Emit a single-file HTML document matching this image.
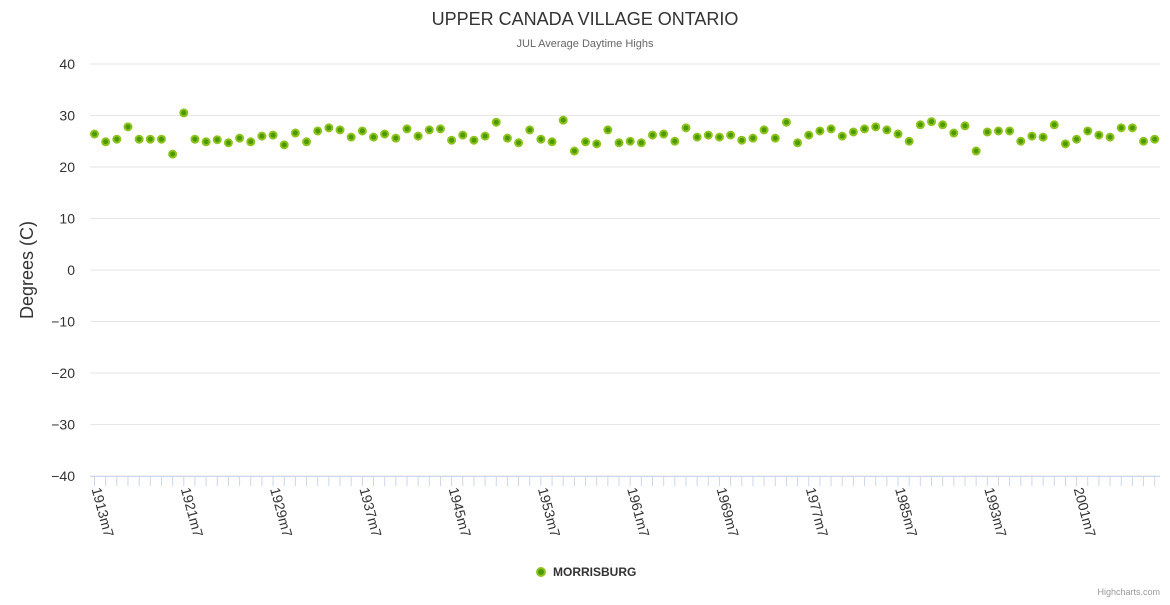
<!DOCTYPE html>
<html><head><meta charset="utf-8"><style>
body{margin:0;background:#fff;font-family:"Liberation Sans",sans-serif}
</style></head><body>
<svg id="chart" width="1170" height="600" xmlns="http://www.w3.org/2000/svg" font-family="Liberation Sans, sans-serif">
<text x="585" y="25" text-anchor="middle" font-size="18" fill="#333">UPPER CANADA VILLAGE ONTARIO</text>
<text x="585" y="47" text-anchor="middle" font-size="11" fill="#666">JUL Average Daytime Highs</text>
<text transform="translate(33,270) rotate(-90)" text-anchor="middle" font-size="18" fill="#333">Degrees (C)</text>
<g id="grid"></g><g id="xaxis"></g><g id="pts"></g>
<g>
<circle cx="541" cy="572" r="4" fill="#4a9a00" stroke="#8fc31f" stroke-width="2"/>
<text x="553" y="576" font-size="12" font-weight="bold" fill="#333">MORRISBURG</text></g>
<text x="1160" y="595" text-anchor="end" font-size="9" fill="#999">Highcharts.com</text>
</svg>
<script>
const startYear = 1913;
const values = [26.4,24.9,25.4,27.8,25.4,25.4,25.4,22.5,30.5,25.4,24.9,25.3,24.7,25.6,24.9,26.0,26.2,24.3,26.6,24.9,27.0,27.6,27.2,25.8,27.0,25.8,26.4,25.6,27.4,26.0,27.2,27.4,25.2,26.2,25.2,26.0,28.7,25.6,24.7,27.2,25.4,24.9,29.1,23.1,24.9,24.5,27.2,24.7,25.0,24.7,26.2,26.4,25.0,27.6,25.8,26.2,25.8,26.2,25.2,25.6,27.2,25.6,28.7,24.7,26.2,27.0,27.4,26.0,26.8,27.4,27.8,27.2,26.4,25.0,28.2,28.8,28.2,26.6,28.0,23.1,26.8,27.0,27.0,25.0,26.0,25.8,28.2,24.5,25.4,27.0,26.2,25.8,27.6,27.6,25.0,25.4];
const yTicks = [40,30,20,10,0,-10,-20,-30,-40];
const NS="http://www.w3.org/2000/svg";
const L=90,R=1160,x0=94.5,step=11.16;
const X=i=>x0+i*step;
const Y=v=>64+(40-v)*412/80;
function mk(t,a,p){const e=document.createElementNS(NS,t);for(const k in a)e.setAttribute(k,a[k]);p.appendChild(e);return e;}
const grid=document.getElementById('grid'),xa=document.getElementById('xaxis'),pts=document.getElementById('pts');
yTicks.forEach(v=>{
 const ln=mk('line',{x1:L,x2:R,y1:Y(v),y2:Y(v),stroke:'#e6e6e6'},grid);
 
 
 const t=mk('text',{x:75,y:Y(v)+5,'text-anchor':'end','font-size':14,fill:'#333'},grid);
 t.textContent=v<0?'\u2212'+(-v):String(v);
 
 
});
const ax=mk('line',{x1:L,x2:R,y1:476.5,y2:476.5,stroke:'#ccd6eb'},xa);


values.forEach((v,i)=>{
 const tk=mk('line',{x1:X(i),x2:X(i),y1:476,y2:486,stroke:'#ccd6eb'},xa);
 
 
 if(i%8===0){
  const t=mk('text',{transform:`translate(${X(i)-3},${489}) rotate(75)`,'font-size':14,fill:'#333'},xa);
  t.textContent=(startYear+i)+'m7';
  
  
 }
 const c=mk('circle',{cx:X(i),cy:Y(v),r:3.5,fill:'#4a9a00',stroke:'#8fc31f','stroke-width':2},pts);
 
 
});
</script>
</body></html>
